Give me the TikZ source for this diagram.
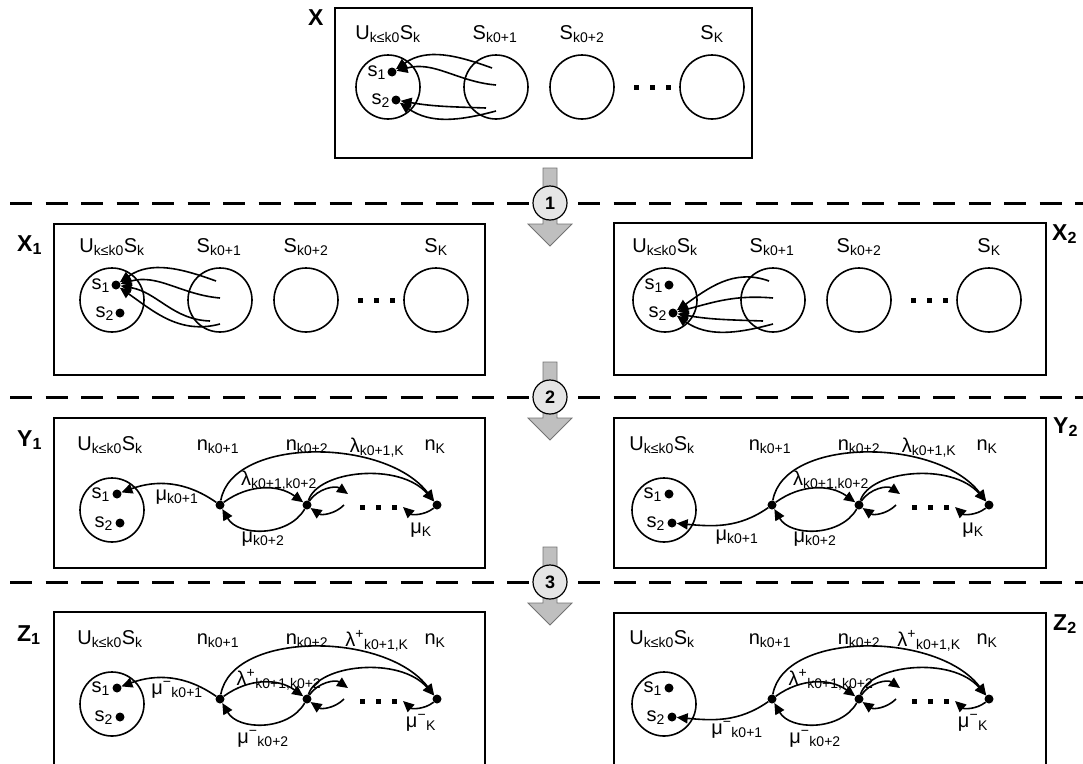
\documentclass[tikz,border=0pt]{standalone}
\usepackage{fontspec}
\setmainfont{Liberation Sans}
\usetikzlibrary{arrows.meta}

\begin{document}
\begin{tikzpicture}[x=1pt,y=1pt]
      \tikzstyle{every node}+=[inner sep=0pt]
      \tikzstyle{setc}=[draw, circle, minimum size=64pt, line width=1.6pt]
      \tikzstyle{sdot}=[fill, circle, minimum size=9pt]
      \tikzstyle{lbl}=[anchor=base, font=\fontsize{20}{24}\selectfont]
      \tikzstyle{tag}=[anchor=base west, font=\fontsize{23}{27}\selectfont\bfseries]
      \tikzstyle{panel}=[line width=1.2pt]
      \tikzstyle{arr}=[-{Triangle[length=11pt,width=10pt]}, line width=1.6pt]
      \tikzstyle{divider}=[dash pattern=on 22pt off 13.5pt, line width=3pt]
      \tikzstyle{blk}=[fill=black!25, draw=black!55, line width=0.8pt]
      \tikzstyle{stp}=[draw, circle, fill=black!10, minimum size=34pt, line width=1.2pt, font=\fontsize{18}{20}\selectfont\bfseries]
      \useasboundingbox (0,0) rectangle (1083,-763);
      % separators and step arrows
      \foreach \n/\cy in {1/-203, 2/-397, 3/-582}{
        \draw [divider] (10,\cy) -- (1083,\cy);
        \draw [blk] (543,\cy+35) -- (557,\cy+35) -- (557,\cy-21) -- (572,\cy-21) -- (550,\cy-43) -- (528,\cy-21) -- (543,\cy-21) -- cycle;
        \node [stp] (st\n) at (550,\cy) {\n};
      }
      % boxes
      \draw [panel] (335,-8) rectangle (752,-158);
      \draw [panel] (54,-224) rectangle (485,-375);
      \draw [panel] (614,-223) rectangle (1046,-375);
      \draw [panel] (54,-418) rectangle (485,-568);
      \draw [panel] (614,-418) rectangle (1046,-568);
      \draw [panel] (54,-612) rectangle (485,-790);
      \draw [panel] (614,-613) rectangle (1046,-790);
      \node [tag] (tx) at (308,-25) {X};
      \node [tag] (tx1) at (17,-251) {X\textsubscript{1}};
      \node [tag] (tx2) at (1052,-240) {X\textsubscript{2}};
      \node [tag] (ty1) at (17,-446) {Y\textsubscript{1}};
      \node [tag] (ty2) at (1053,-433) {Y\textsubscript{2}};
      \node [tag] (tz1) at (17,-641) {Z\textsubscript{1}};
      \node [tag] (tz2) at (1053,-630) {Z\textsubscript{2}};
      % set panels X, X1, X2
      \foreach \dx/\dy/\ta/\tb/\tc/\td in {0/0/d1/d1/d2/d2, -276/-213/d1/d1/d1/d1, 277/-213/d2/d2/d2/d2}{
        \begin{scope}[shift={(\dx,\dy)}]
          \node [setc] (cu) at (388,-87) {};
          \node [setc] (ca) at (496,-87) {};
          \node [setc] (cb) at (582,-87) {};
          \node [setc] (ck) at (712,-87) {};
          \node [lbl] (lu) at (388,-39) {U\textsubscript{k≤k0}S\textsubscript{k}};
          \node [lbl] (la) at (495,-39) {S\textsubscript{k0+1}};
          \node [lbl] (lb) at (582,-39) {S\textsubscript{k0+2}};
          \node [lbl] (lk) at (712,-39) {S\textsubscript{K}};
          \node [sdot] (d1) at (392,-72) {};
          \node [sdot] (d2) at (396,-100) {};
          \node [lbl, anchor=base east] (l1) at (386,-76) {s\textsubscript{1}};
          \node [lbl, anchor=base east] (l2) at (390,-104) {s\textsubscript{2}};
          \foreach \q in {636,652,668} \fill (\q-2.5,-89.5) rectangle +(5,5);
          \coordinate (ea) at (492,-68);
          \coordinate (eb) at (496,-85);
          \coordinate (ec) at (486,-108);
          \coordinate (ed) at (496,-111);
          \draw [arr] (ea) to[out=160,in=35] (\ta);
          \draw [arr] (eb) to[out=175,in=15] (\tb);
          \draw [arr] (ec) to[out=178,in=-10] (\tc);
          \draw [arr] (ed) to[out=195,in=-35] (\td);
        \end{scope}
      }
      % chain panels Y1, Y2, Z1, Z2
      \foreach \dy/\lsup/\msup/\ly/\mz in {0/{}/{}/-485/-542, -194/{\textsuperscript{+}}/{\textsuperscript{−}}/-491/-549}{
        \foreach \dx/\tg/\ao/\ai/\mx/\my in {0/d1/145/20/177/-500, 552/d2/215/-5/185/-540}{
          \begin{scope}[shift={(\dx,\dy)}]
            \node [setc] (cu) at (112,-510) {};
            \node [sdot] (d1) at (117,-494) {};
            \node [sdot] (d2) at (120,-523) {};
            \node [lbl, anchor=base east] (l1) at (110,-498) {s\textsubscript{1}};
            \node [lbl, anchor=base east] (l2) at (113,-527) {s\textsubscript{2}};
            \node [sdot] (n1) at (220,-505) {};
            \node [sdot] (n2) at (307,-505) {};
            \node [sdot] (nk) at (437,-505) {};
            \node [lbl] (lu) at (110,-450) {U\textsubscript{k≤k0}S\textsubscript{k}};
            \node [lbl] (la) at (218,-450) {n\textsubscript{k0+1}};
            \node [lbl] (lb) at (307,-450) {n\textsubscript{k0+2}};
            \node [lbl] (lk) at (435,-450) {n\textsubscript{K}};
            \node [lbl] (gak) at (377,-452) {λ\lsup\textsubscript{k0+1,K}};
            \node [lbl] (gab) at (279,\ly) {λ\lsup\textsubscript{k0+1,k0+2}};
            \node [lbl] (ma) at (\mx,\my) {μ\msup\textsubscript{k0+1}};
            \node [lbl] (mb) at (263,\mz) {μ\msup\textsubscript{k0+2}};
            \node [lbl] (mk) at (421,-533) {μ\msup\textsubscript{K}};
            \foreach \q in {362,378,394} \fill (\q-2.5,-509.5) rectangle +(5,5);
            \coordinate (fa) at (348,-494);
            \coordinate (fb) at (344,-505);
            \coordinate (fc) at (403,-507);
            \draw [arr] (n1) to[out=\ao,in=\ai] (\tg);
            \draw [arr] (n1) to[bend left=36] (n2);
            \draw [arr] (n2) to[bend left=60] (n1);
            \draw [arr] (n1) .. controls (232,-437) and (385,-437) .. (nk);
            \draw [arr] (n2) .. controls (318,-470) and (400,-462) .. (nk);
            \draw [arr] (n2) to[bend left=45] (fa);
            \draw [arr] (fb) to[bend left=40] (n2);
            \draw [arr] (nk) to[bend left=40] (fc);
          \end{scope}
        }
      }
\end{tikzpicture}
\end{document}
